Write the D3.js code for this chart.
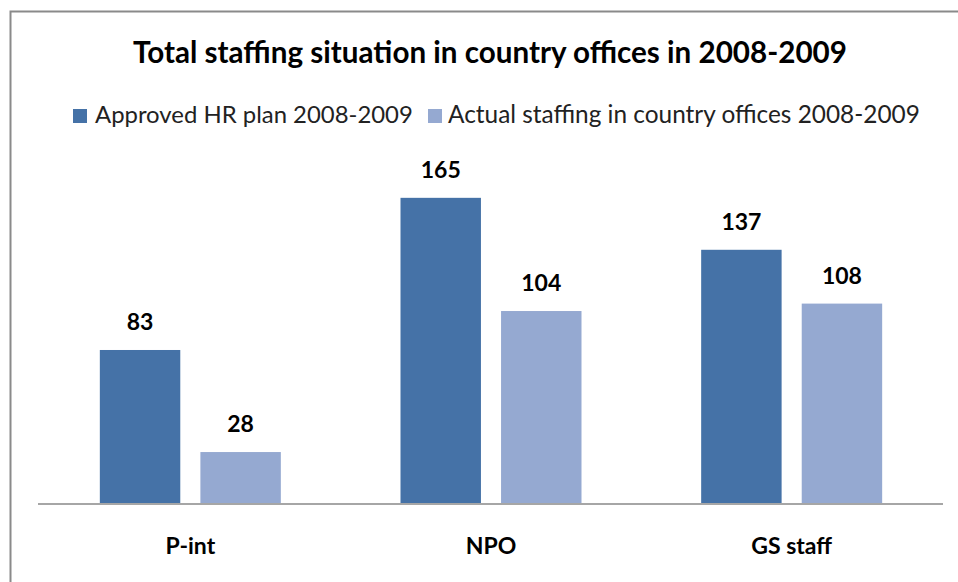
<!DOCTYPE html>
<html>
<head>
<meta charset="utf-8">
<script src="https://cdn.jsdelivr.net/npm/d3@7"></script>
<style>
  html, body { margin: 0; padding: 0; background: #fff; }
  svg { display: block; }
</style>
</head>
<body>
<svg id="chart" width="958" height="582"></svg>
<script>
const titleText = "Total staffing situation in country offices in 2008-2009";
const categories = ["P-int", "NPO", "GS staff"];
const seriesNames = ["Approved HR plan 2008-2009", "Actual staffing in country offices 2008-2009"];
const approved = [83, 165, 137];
const actual = [28, 104, 108];
const colors = ["#4572A7", "#95A9D1"];

const fontFamily = "Lato, 'Open Sans', 'DejaVu Sans', sans-serif";
const svg = d3.select("#chart");

// chart border
svg.append("rect")
  .attr("x", 10.5).attr("y", 11.5)
  .attr("width", 960).attr("height", 600)
  .attr("fill", "#fff").attr("stroke", "#8a8a8a").attr("stroke-width", 2);

function fit(sel, targetWidth) {
  const node = sel.node();
  let fs = parseFloat(sel.attr("font-size"));
  for (let i = 0; i < 4; i++) {
    const w = node.getComputedTextLength();
    if (w > 0) { fs = fs * targetWidth / w; sel.attr("font-size", fs); }
  }
}

// title
const title = svg.append("text")
  .attr("x", 490).attr("y", 63)
  .attr("text-anchor", "middle")
  .attr("font-family", fontFamily).attr("font-weight", "bold")
  .attr("font-size", 24).attr("fill", "#000")
  .text(titleText);
fit(title, 714);

// plot
const x0 = d3.scaleBand().domain(categories).range([40, 942]);
const x1 = d3.scaleBand().domain([0, 1]).range([-90.5, 90.5]).paddingInner(0.2);
const y = d3.scaleLinear().domain([0, 180]).range([504, 170]);

const data = categories.map((c, i) => ({ cat: c, vals: [approved[i], actual[i]] }));

const groups = svg.selectAll("g.cat").data(data).join("g")
  .attr("class", "cat")
  .attr("transform", d => `translate(${x0(d.cat) + x0.bandwidth() / 2},0)`);

groups.selectAll("rect").data(d => d.vals.map((v, s) => ({ v, s }))).join("rect")
  .attr("x", d => x1(d.s))
  .attr("width", x1.bandwidth())
  .attr("y", d => y(d.v))
  .attr("height", d => y(0) - y(d.v))
  .attr("fill", d => colors[d.s]);

groups.selectAll("text.val").data(d => d.vals.map((v, s) => ({ v, s }))).join("text")
  .attr("class", "val")
  .attr("x", d => x1(d.s) + x1.bandwidth() / 2)
  .attr("y", d => y(d.v) - 20)
  .attr("text-anchor", "middle")
  .attr("font-family", fontFamily).attr("font-weight", "bold")
  .attr("font-size", 23).attr("fill", "#000")
  .text(d => d.v);

// x axis
const xAxis = d3.axisBottom(x0).tickSize(0).tickPadding(0);
const ax = svg.append("g").attr("transform", `translate(0,${y(0)})`).call(xAxis);
ax.select(".domain").remove();
ax.append("line").attr("x1", 38).attr("x2", 943).attr("y1", 0).attr("y2", 0)
  .attr("stroke", "#a6a6a6").attr("stroke-width", 2);
ax.selectAll(".tick text")
  .attr("y", 50).attr("dy", 0)
  .attr("font-family", fontFamily).attr("font-weight", "bold")
  .attr("font-size", 23).attr("fill", "#000");

// legend
const legendItems = [
  { name: seriesNames[0], color: colors[0], sx: 73, tx: 95, w: 318 },
  { name: seriesNames[1], color: colors[1], sx: 428, tx: 448, w: 472 }
];
const lg = svg.append("g");
legendItems.forEach(it => {
  lg.append("rect").attr("x", it.sx).attr("y", 109).attr("width", 14).attr("height", 14).attr("fill", it.color);
  const t = lg.append("text").attr("x", it.tx).attr("y", 123)
    .attr("font-family", fontFamily).attr("font-size", 20).attr("fill", "#222")
    .text(it.name);
  fit(t, it.w);
});
</script>
</body>
</html>
